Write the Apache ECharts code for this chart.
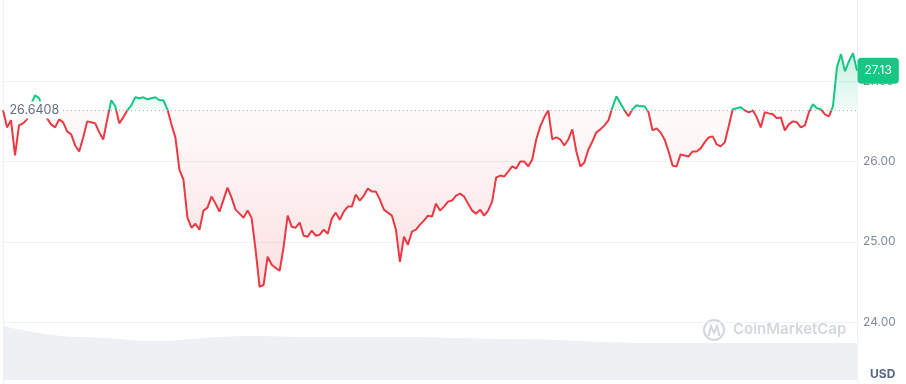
<!DOCTYPE html>
<html>
<head>
<meta charset="utf-8">
<script src="https://cdn.jsdelivr.net/npm/echarts@6/dist/echarts.min.js"></script>
<style>
  html, body { margin: 0; padding: 0; background: #fff; }
  #chart { width: 906px; height: 384px; }
</style>
</head>
<body>
<div id="chart"></div>
<script>
// ---- data ----
const basePrice = 26.6408;
const lastPrice = 27.13;
const prices = [
  26.6408, 26.425, 26.513, 26.075, 26.45, 26.475, 26.525, 26.713, 26.825, 26.788,
  26.65, 26.538, 26.463, 26.425, 26.525, 26.488, 26.375, 26.338, 26.2, 26.125,
  26.3, 26.5, 26.488, 26.475, 26.363, 26.275, 26.525, 26.763, 26.688, 26.475,
  26.55, 26.638, 26.7, 26.8, 26.788, 26.8, 26.775, 26.788, 26.8, 26.763,
  26.763, 26.65, 26.463, 26.3, 25.9, 25.775, 25.3, 25.175, 25.225, 25.15,
  25.388, 25.425, 25.563, 25.475, 25.375, 25.525, 25.675, 25.55, 25.4, 25.35,
  25.3, 25.388, 25.3, 24.9, 24.438, 24.463, 24.813, 24.713, 24.675, 24.638,
  24.938, 25.325, 25.188, 25.175, 25.238, 25.075, 25.063, 25.138, 25.075, 25.088,
  25.15, 25.1, 25.288, 25.363, 25.275, 25.375, 25.438, 25.438, 25.588, 25.513,
  25.575, 25.663, 25.625, 25.625, 25.525, 25.4, 25.363, 25.325, 25.15, 24.75,
  25.063, 24.963, 25.125, 25.15, 25.213, 25.263, 25.325, 25.313, 25.475, 25.388,
  25.438, 25.5, 25.513, 25.575, 25.6, 25.563, 25.475, 25.388, 25.35, 25.4,
  25.325, 25.388, 25.5, 25.8, 25.825, 25.813, 25.875, 25.938, 25.913, 26.0,
  26.0, 25.938, 26.025, 26.275, 26.438, 26.55, 26.638, 26.275, 26.3, 26.275,
  26.2, 26.275, 26.4, 26.125, 25.938, 25.988, 26.15, 26.25, 26.363, 26.4,
  26.45, 26.513, 26.675, 26.813, 26.725, 26.638, 26.563, 26.65, 26.7, 26.688,
  26.688, 26.613, 26.388, 26.413, 26.363, 26.275, 26.125, 25.95, 25.938, 26.088,
  26.075, 26.063, 26.125, 26.125, 26.163, 26.238, 26.3, 26.313, 26.213, 26.188,
  26.238, 26.438, 26.65, 26.663, 26.675, 26.638, 26.613, 26.638, 26.55, 26.425,
  26.613, 26.6, 26.588, 26.538, 26.55, 26.388, 26.463, 26.5, 26.488, 26.425,
  26.45, 26.613, 26.713, 26.663, 26.65, 26.588, 26.563, 26.688, 27.175, 27.338,
  27.125, 27.25, 27.35, 27.13
];
const volumes = [54, 45, 42, 39, 42, 44, 43, 43, 43, 42, 41, 40, 38, 37, 37, 37, 37, 37];
const priceTicks = [24, 25, 26, 27, 28];
const currencyLabel = 'USD';
const brandLabel = 'CoinMarketCap';

const times = prices.map((_, i) => 'p' + i);
const volTimes = volumes.map((_, i) => 'v' + i);

// ---- styles ----
const GREEN = '#16c784';
const RED = '#ea3943';
const maxV = Math.max(...prices), minV = Math.min(...prices);

const chart = echarts.init(document.getElementById('chart'), null, { renderer: 'canvas' });
chart.setOption({
  animation: false,
  grid: [
    { left: 3, right: 49, top: 1, bottom: 62 },
    { left: 3, right: 49, top: 320, bottom: 4 }
  ],
  xAxis: [
    { type: 'category', gridIndex: 0, data: times, boundaryGap: false,
      axisLine: { show: false }, axisTick: { show: false }, axisLabel: { show: false }, splitLine: { show: false } },
    { type: 'category', gridIndex: 1, data: volTimes, boundaryGap: false, show: false }
  ],
  yAxis: [
    { type: 'value', gridIndex: 0, position: 'right', min: priceTicks[0], max: priceTicks[priceTicks.length - 1], interval: 1,
      axisLine: { show: false }, axisTick: { show: false },
      axisLabel: { showMaxLabel: false, margin: 6, color: '#808a9d', fontSize: 12, fontFamily: 'Inter',
        formatter: v => v.toFixed(2) },
      splitLine: { showMaxLine: false, lineStyle: { color: '#eff2f5', width: 1 } } },
    { type: 'value', gridIndex: 1, min: 0, max: 60, show: false, splitLine: { show: false } }
  ],
  series: [
    {
      type: 'line', xAxisIndex: 0, yAxisIndex: 0, data: prices,
      showSymbol: false, symbol: 'none',
      lineStyle: { width: 2, color: RED },
      areaStyle: { origin: basePrice, color: 'rgba(234,57,67,0.1)' },
      markLine: {
        silent: true, symbol: 'none',
        lineStyle: { color: '#a6b0c3', type: [1, 3], width: 1 },
        label: { show: false },
        data: [ { yAxis: basePrice } ]
      },
      markPoint: {
        silent: true,
        symbol: 'circle', symbolSize: 1,
        itemStyle: { color: 'rgba(0,0,0,0)' },
        data: [
          { coord: [0, basePrice],
            label: { show: true, position: 'right', distance: 4, formatter: basePrice.toFixed(4),
              color: '#616e85', fontSize: 12.5, fontFamily: 'Inter', backgroundColor: '#ffffff', padding: [2, 2, 2, 2] } },
          { coord: [prices.length - 1, lastPrice],
            label: { show: true, position: 'right', distance: 0, formatter: lastPrice.toFixed(2),
              color: '#ffffff', fontSize: 12, fontFamily: 'Inter', backgroundColor: GREEN,
              borderRadius: 4, padding: [7, 7, 7, 7] } }
        ]
      }
    },
    {
      type: 'line', xAxisIndex: 1, yAxisIndex: 1, data: volumes, smooth: true,
      showSymbol: false, symbol: 'none', silent: true,
      lineStyle: { width: 0, color: '#eef0f3' },
      areaStyle: { color: '#eef0f3', opacity: 1 }
    }
  ],
  graphic: [
    { type: 'line', shape: { x1: 3.5, y1: 0, x2: 3.5, y2: 384 }, style: { stroke: '#eff2f5', lineWidth: 1 }, silent: true },
    { type: 'line', shape: { x1: 857.5, y1: 0, x2: 857.5, y2: 384 }, style: { stroke: '#eff2f5', lineWidth: 1 }, silent: true },
    { type: 'text', left: 870, top: 368,
      style: { text: currencyLabel, fill: '#58667e', font: 'bold 12px Inter' } },
    { type: 'circle', shape: { cx: 714, cy: 330, r: 10 },
      style: { fill: 'none', stroke: '#d3d7de', lineWidth: 2 } },
    { type: 'polyline', shape: { points: [[708.5, 336], [711, 326], [714, 333], [717, 326], [719.5, 336]] },
      style: { fill: 'none', stroke: '#d3d7de', lineWidth: 2 } },
    { type: 'text', left: 733, top: 322,
      style: { text: brandLabel, fill: '#d3d7de', font: '600 15px Inter' } }
  ]
});

// colour the line and area around the base price using pixel positions from the axis scale
const yBase = chart.convertToPixel({ yAxisIndex: 0 }, basePrice);
const yTop = chart.convertToPixel({ yAxisIndex: 0 }, maxV);
const yBot = chart.convertToPixel({ yAxisIndex: 0 }, minV);
const lineGrad = new echarts.graphic.LinearGradient(0, yBase - 0.5, 0, yBase + 0.5, [
  { offset: 0, color: GREEN }, { offset: 0.5, color: GREEN },
  { offset: 0.5, color: RED }, { offset: 1, color: RED }
], true);
const fb = (yBase - yTop) / (yBot - yTop);
const areaGrad = new echarts.graphic.LinearGradient(0, yTop, 0, yBot, [
  { offset: 0, color: 'rgba(22,199,132,0.34)' },
  { offset: fb, color: 'rgba(22,199,132,0.08)' },
  { offset: Math.min(1, fb + 0.0001), color: 'rgba(234,57,67,0.03)' },
  { offset: 1, color: 'rgba(234,57,67,0.22)' }
], true);
chart.setOption({ series: [ { lineStyle: { color: lineGrad }, areaStyle: { color: areaGrad } }, {} ] });
</script>
</body>
</html>
